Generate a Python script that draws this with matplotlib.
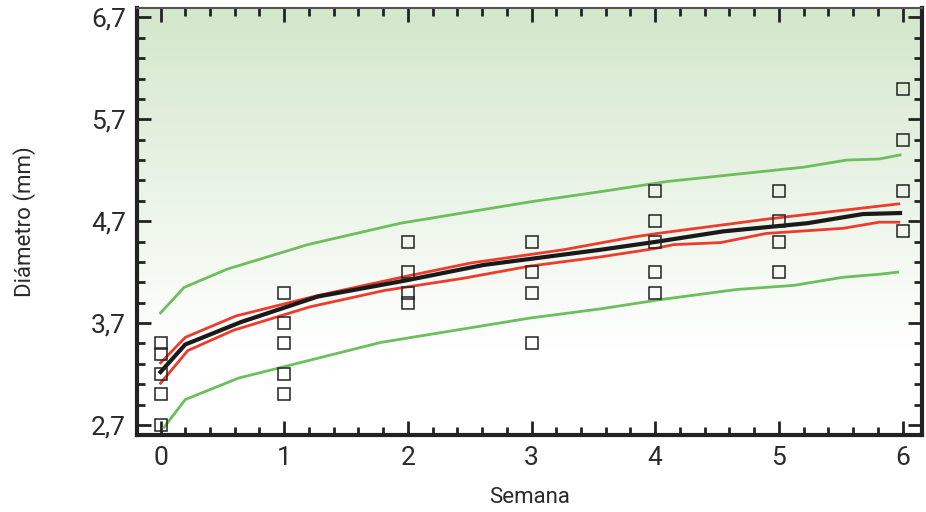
import numpy as np
import matplotlib
matplotlib.use("Agg")
import matplotlib.pyplot as plt
from matplotlib.colors import LinearSegmentedColormap
from matplotlib.ticker import MultipleLocator, FuncFormatter

plt.rcParams["font.family"] = ["Roboto", "Liberation Sans", "DejaVu Sans"]

# observed diameters (open squares), per week
weeks_obs = [0, 0, 0, 0, 0,
             1, 1, 1, 1, 1,
             2, 2, 2, 2,
             3, 3, 3, 3,
             4, 4, 4, 4, 4,
             5, 5, 5, 5,
             6, 6, 6, 6]
diam_obs = [3.5, 3.4, 3.2, 3.0, 2.7,
            4.0, 3.7, 3.5, 3.2, 3.0,
            4.5, 4.2, 4.0, 3.9,
            4.5, 4.2, 4.0, 3.5,
            5.0, 4.7, 4.5, 4.2, 4.0,
            5.0, 4.7, 4.5, 4.2,
            6.0, 5.5, 5.0, 4.6]

# fitted mean curve
mean_x = [0.0, 0.2, 0.65, 1.27, 1.99, 2.61, 3.56, 4.02, 4.55, 5.23, 5.68, 5.98]
mean_y = [3.22, 3.49, 3.71, 3.96, 4.12, 4.27, 4.42, 4.50, 4.60, 4.68, 4.77, 4.78]

# confidence band (red)
ci_up_x = [0.0, 0.2, 0.61, 1.27, 1.99, 2.51, 3.26, 3.80, 4.02, 4.90, 5.97]
ci_up_y = [3.31, 3.56, 3.77, 3.97, 4.16, 4.29, 4.42, 4.54, 4.58, 4.72, 4.87]
ci_lo_x = [0.0, 0.22, 0.59, 1.21, 1.81, 2.45, 2.99, 3.56, 3.99, 4.15, 4.53, 4.90, 5.52, 5.81, 5.97]
ci_lo_y = [3.11, 3.43, 3.63, 3.86, 4.02, 4.14, 4.26, 4.35, 4.43, 4.47, 4.49, 4.58, 4.63, 4.69, 4.69]

# prediction band (green)
pi_up_x = [0.0, 0.19, 0.54, 1.19, 1.94, 2.99, 3.56, 4.10, 5.20, 5.55, 5.81, 5.98]
pi_up_y = [3.80, 4.05, 4.23, 4.47, 4.68, 4.89, 4.99, 5.09, 5.23, 5.30, 5.31, 5.35]
pi_lo_x = [0.03, 0.2, 0.63, 1.78, 2.99, 3.56, 4.04, 4.66, 5.12, 5.52, 5.82, 5.96]
pi_lo_y = [2.68, 2.95, 3.16, 3.51, 3.75, 3.84, 3.93, 4.03, 4.07, 4.15, 4.18, 4.20]

fig = plt.figure(figsize=(9.26, 5.12), dpi=100)
ax = fig.add_axes([0.148, 0.150, 0.848, 0.834])

xmin, xmax = -0.19, 6.16
ymin, ymax = 2.6, 6.79

# green-to-white background gradient (white in the lower part)
grad = np.linspace(0, 1, 256).reshape(-1, 1)
grad = np.clip((grad - 0.2) / 0.8, 0, 1)
ax.imshow(grad, extent=[xmin, xmax, ymin, ymax], origin="lower", aspect="auto",
          cmap=LinearSegmentedColormap.from_list("bg", ["#ffffff", "#d3e7cb"]), zorder=0)

green = "#6cbf5c"
red = "#ee3b2c"
ax.plot(pi_up_x, pi_up_y, color=green, lw=2.0, zorder=2)
ax.plot(pi_lo_x, pi_lo_y, color=green, lw=2.0, zorder=2)
ax.plot(ci_up_x, ci_up_y, color=red, lw=2.0, zorder=3)
ax.plot(ci_lo_x, ci_lo_y, color=red, lw=2.0, zorder=3)
ax.plot(mean_x, mean_y, color="#1a1a1a", lw=3.0, zorder=4)
ax.plot(weeks_obs, diam_obs, ls="none", marker="s", ms=8, mfc="none",
        mec="#222222", mew=1.1, zorder=5)

ax.set_xlim(xmin, xmax)
ax.set_ylim(ymin, ymax)

ax.xaxis.set_major_locator(MultipleLocator(1))
ax.xaxis.set_minor_locator(MultipleLocator(0.2))
ax.set_yticks([2.7, 3.7, 4.7, 5.7, 6.7])
ax.set_yticks(np.arange(2.7, 6.75, 0.2), minor=True)
ax.yaxis.set_major_formatter(FuncFormatter(lambda v, p: f"{v:.1f}".replace(".", ",")))

ax.tick_params(which="both", direction="in", top=True, right=True, width=2.0,
               color="#222222", labelsize=19, labelcolor="#2a2a2a")
ax.tick_params(which="major", length=10, pad=8)
ax.tick_params(which="minor", length=6)

for side in ["left", "bottom", "right"]:
    ax.spines[side].set_linewidth(3.0)
    ax.spines[side].set_color("#222222")
ax.spines["top"].set_linewidth(1.5)
ax.spines["top"].set_color("#555555")

ax.set_xlabel("Semana", fontsize=16, color="#2a2a2a", labelpad=12)
ax.set_ylabel("Diámetro (mm)", fontsize=16, color="#2a2a2a", labelpad=40)

fig.savefig("out.png", dpi=100)
